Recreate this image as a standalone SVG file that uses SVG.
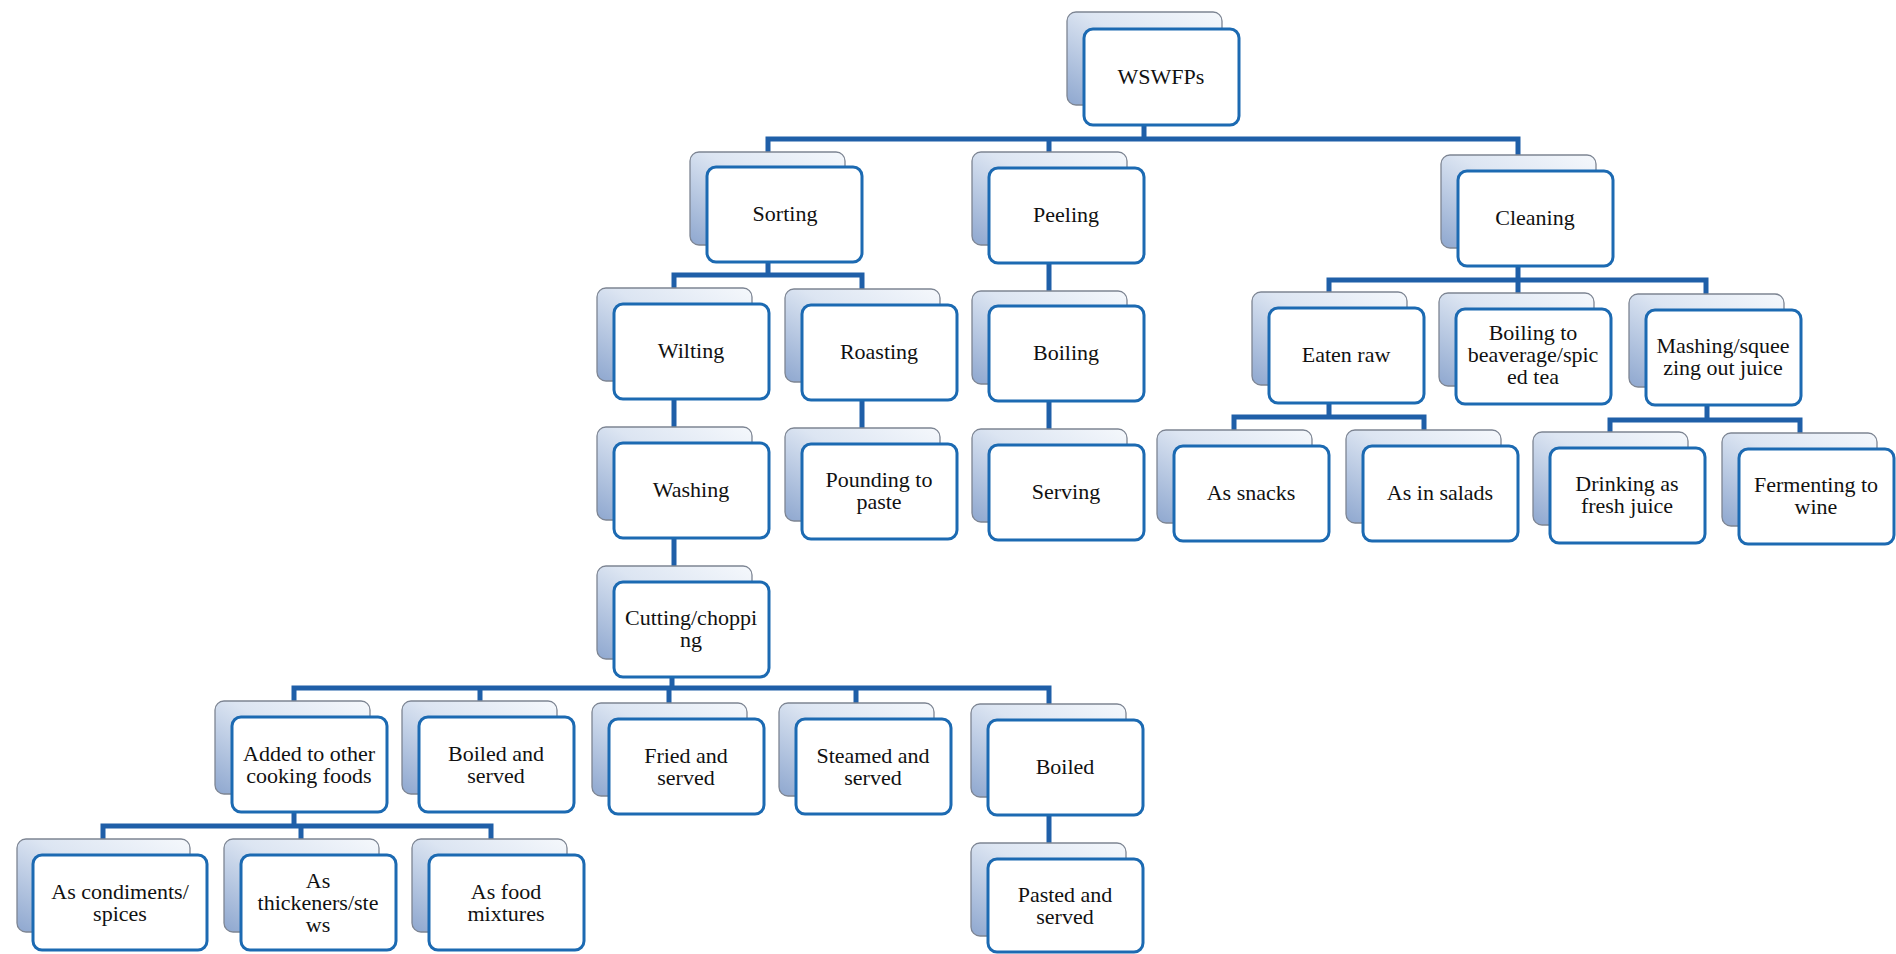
<svg xmlns="http://www.w3.org/2000/svg" width="1896" height="954" viewBox="0 0 1896 954">
<defs>
<linearGradient id="bg" x1="1" y1="0" x2="0" y2="1">
<stop offset="0" stop-color="#f5f8fc"/>
<stop offset="0.45" stop-color="#dce5f2"/>
<stop offset="1" stop-color="#8ea7cf"/>
</linearGradient>
<style>
.back{fill:url(#bg);stroke:#7d8593;stroke-width:1.3}
.front{fill:#ffffff;stroke:#1c6ab2;stroke-width:3}
.lbl{font-family:"Liberation Serif","Times New Roman",serif;font-size:22px;fill:#111;text-anchor:middle}
.conn{fill:none;stroke:#1f5fa8;stroke-width:5;stroke-linecap:square}
</style>
</defs>
<rect width="1896" height="954" fill="#ffffff"/>
<g id="connectors">
<path class="conn" d="M1144 126V139M768 139H1518M768 139V152M1049 139V152M1518 139V155"/>
<path class="conn" d="M768 261V275M674 275H862M674 275V288M862 275V289"/>
<path class="conn" d="M1049 263V291M1049 401V429"/>
<path class="conn" d="M1518 266V293M1329 280H1706M1329 280V292M1706 280V294"/>
<path class="conn" d="M674 399V427M862 400V428M674 538V566"/>
<path class="conn" d="M1329 403V417M1234 417H1424M1234 417V430M1424 417V430"/>
<path class="conn" d="M1707 406V420M1610 420H1800M1610 420V432M1800 420V433"/>
<path class="conn" d="M672 677V688M294 688H1049M294 688V701M480 688V701M669 688V703M856 688V703M1049 688V704"/>
<path class="conn" d="M294 812V826M103 826H491M103 826V839M301 826V839M491 826V839"/>
<path class="conn" d="M1049 815V843"/>
</g>
<g id="n-wswfps"><rect class="back" x="1067" y="12" width="155" height="93" rx="9"/><rect class="front" x="1084" y="29" width="155" height="96" rx="9"/><text class="lbl" x="1161" y="84">WSWFPs</text></g>
<g id="n-sorting"><rect class="back" x="690" y="152" width="155" height="93" rx="9"/><rect class="front" x="707" y="167" width="155" height="95" rx="9"/><text class="lbl" x="785" y="221">Sorting</text></g>
<g id="n-peeling"><rect class="back" x="972" y="152" width="155" height="93" rx="9"/><rect class="front" x="989" y="168" width="155" height="95" rx="9"/><text class="lbl" x="1066" y="222">Peeling</text></g>
<g id="n-cleaning"><rect class="back" x="1441" y="155" width="155" height="93" rx="9"/><rect class="front" x="1458" y="171" width="155" height="95" rx="9"/><text class="lbl" x="1535" y="225">Cleaning</text></g>
<g id="n-wilting"><rect class="back" x="597" y="288" width="155" height="93" rx="9"/><rect class="front" x="614" y="304" width="155" height="95" rx="9"/><text class="lbl" x="691" y="358">Wilting</text></g>
<g id="n-roasting"><rect class="back" x="785" y="289" width="155" height="93" rx="9"/><rect class="front" x="802" y="305" width="155" height="95" rx="9"/><text class="lbl" x="879" y="359">Roasting</text></g>
<g id="n-boiling"><rect class="back" x="972" y="291" width="155" height="93" rx="9"/><rect class="front" x="989" y="306" width="155" height="95" rx="9"/><text class="lbl" x="1066" y="360">Boiling</text></g>
<g id="n-eatenraw"><rect class="back" x="1252" y="292" width="155" height="93" rx="9"/><rect class="front" x="1269" y="308" width="155" height="95" rx="9"/><text class="lbl" x="1346" y="362">Eaten raw</text></g>
<g id="n-boilingto"><rect class="back" x="1439" y="293" width="155" height="93" rx="9"/><rect class="front" x="1456" y="309" width="155" height="95" rx="9"/><text class="lbl" x="1533" y="340"><tspan x="1533">Boiling to</tspan><tspan x="1533" dy="22">beaverage/spic</tspan><tspan x="1533" dy="22">ed tea</tspan></text></g>
<g id="n-mashing"><rect class="back" x="1629" y="294" width="155" height="93" rx="9"/><rect class="front" x="1646" y="310" width="155" height="95" rx="9"/><text class="lbl" x="1723" y="353"><tspan x="1723">Mashing/squee</tspan><tspan x="1723" dy="22">zing out juice</tspan></text></g>
<g id="n-washing"><rect class="back" x="597" y="427" width="155" height="93" rx="9"/><rect class="front" x="614" y="443" width="155" height="95" rx="9"/><text class="lbl" x="691" y="497">Washing</text></g>
<g id="n-pounding"><rect class="back" x="785" y="428" width="155" height="93" rx="9"/><rect class="front" x="802" y="444" width="155" height="95" rx="9"/><text class="lbl" x="879" y="487"><tspan x="879">Pounding to</tspan><tspan x="879" dy="22">paste</tspan></text></g>
<g id="n-serving"><rect class="back" x="972" y="429" width="155" height="93" rx="9"/><rect class="front" x="989" y="445" width="155" height="95" rx="9"/><text class="lbl" x="1066" y="499">Serving</text></g>
<g id="n-snacks"><rect class="back" x="1157" y="430" width="155" height="93" rx="9"/><rect class="front" x="1174" y="446" width="155" height="95" rx="9"/><text class="lbl" x="1251" y="500">As snacks</text></g>
<g id="n-salads"><rect class="back" x="1346" y="430" width="155" height="93" rx="9"/><rect class="front" x="1363" y="446" width="155" height="95" rx="9"/><text class="lbl" x="1440" y="500">As in salads</text></g>
<g id="n-drinking"><rect class="back" x="1533" y="432" width="155" height="93" rx="9"/><rect class="front" x="1550" y="448" width="155" height="95" rx="9"/><text class="lbl" x="1627" y="491"><tspan x="1627">Drinking as</tspan><tspan x="1627" dy="22">fresh juice</tspan></text></g>
<g id="n-fermenting"><rect class="back" x="1722" y="433" width="155" height="93" rx="9"/><rect class="front" x="1739" y="449" width="155" height="95" rx="9"/><text class="lbl" x="1816" y="492"><tspan x="1816">Fermenting to</tspan><tspan x="1816" dy="22">wine</tspan></text></g>
<g id="n-cutting"><rect class="back" x="597" y="566" width="155" height="93" rx="9"/><rect class="front" x="614" y="582" width="155" height="95" rx="9"/><text class="lbl" x="691" y="625"><tspan x="691">Cutting/choppi</tspan><tspan x="691" dy="22">ng</tspan></text></g>
<g id="n-added"><rect class="back" x="215" y="701" width="155" height="93" rx="9"/><rect class="front" x="232" y="717" width="155" height="95" rx="9"/><text class="lbl" x="309" y="761"><tspan x="309">Added to other</tspan><tspan x="309" dy="22">cooking foods</tspan></text></g>
<g id="n-boiledserved"><rect class="back" x="402" y="701" width="155" height="93" rx="9"/><rect class="front" x="419" y="717" width="155" height="95" rx="9"/><text class="lbl" x="496" y="761"><tspan x="496">Boiled and</tspan><tspan x="496" dy="22">served</tspan></text></g>
<g id="n-fried"><rect class="back" x="592" y="703" width="155" height="93" rx="9"/><rect class="front" x="609" y="719" width="155" height="95" rx="9"/><text class="lbl" x="686" y="763"><tspan x="686">Fried and</tspan><tspan x="686" dy="22">served</tspan></text></g>
<g id="n-steamed"><rect class="back" x="779" y="703" width="155" height="93" rx="9"/><rect class="front" x="796" y="719" width="155" height="95" rx="9"/><text class="lbl" x="873" y="763"><tspan x="873">Steamed and</tspan><tspan x="873" dy="22">served</tspan></text></g>
<g id="n-boiled"><rect class="back" x="971" y="704" width="155" height="93" rx="9"/><rect class="front" x="988" y="720" width="155" height="95" rx="9"/><text class="lbl" x="1065" y="774">Boiled</text></g>
<g id="n-condiments"><rect class="back" x="17" y="839" width="173" height="93" rx="9"/><rect class="front" x="33" y="855" width="174" height="95" rx="9"/><text class="lbl" x="120" y="899"><tspan x="120">As condiments/</tspan><tspan x="120" dy="22">spices</tspan></text></g>
<g id="n-thickeners"><rect class="back" x="224" y="839" width="155" height="93" rx="9"/><rect class="front" x="241" y="855" width="155" height="95" rx="9"/><text class="lbl" x="318" y="888"><tspan x="318">As</tspan><tspan x="318" dy="22">thickeners/ste</tspan><tspan x="318" dy="22">ws</tspan></text></g>
<g id="n-mixtures"><rect class="back" x="412" y="839" width="155" height="93" rx="9"/><rect class="front" x="429" y="855" width="155" height="95" rx="9"/><text class="lbl" x="506" y="899"><tspan x="506">As food</tspan><tspan x="506" dy="22">mixtures</tspan></text></g>
<g id="n-pasted"><rect class="back" x="971" y="843" width="155" height="93" rx="9"/><rect class="front" x="988" y="859" width="155" height="93" rx="9"/><text class="lbl" x="1065" y="902"><tspan x="1065">Pasted and</tspan><tspan x="1065" dy="22">served</tspan></text></g>
</svg>
